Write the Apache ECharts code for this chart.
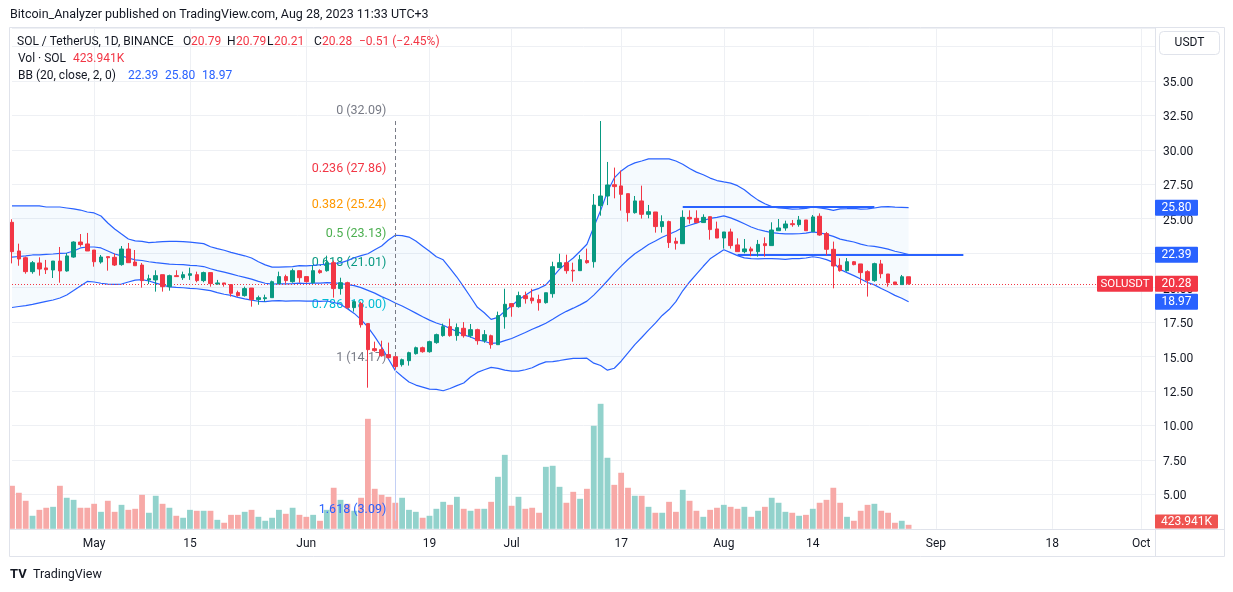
<!DOCTYPE html>
<html>
<head>
<meta charset="utf-8">
<script src="https://cdn.jsdelivr.net/npm/echarts/dist/echarts.min.js"></script>
<style>
html,body{margin:0;padding:0;background:#fff;}
#chart{width:1233px;height:592px;}
</style>
</head>
<body>
<div id="chart"></div>
<script>
// ---------------- DATA ----------------
const startDate = '2023-04-19';
const axisDays = 168;
const tickDates = ['2023-05-01','2023-05-15','2023-06-01','2023-06-19','2023-07-01','2023-07-17','2023-08-01','2023-08-14','2023-09-01','2023-09-18','2023-10-01'];
const tickTexts = ['May','15','Jun','19','Jul','17','Aug','14','Sep','18','Oct'];
const priceTicks = ['5.00','7.50','10.00','12.50','15.00','17.50','20.00','22.50','25.00','27.50','30.00','32.50','35.00'];

const opens = [24.74,22.66,22.17,21.16,21.79,21.43,21.28,21.93,21.21,22.22, 23.31,23.17,22.73,21.86,22.25,22.20,21.67,22.80,21.86,21.64, 20.55,20.56,20.94,20.07,20.87,20.72,20.89,20.94,20.51,21.09, 20.27,20.34,20.22,19.64,19.42,19.97,19.13,19.20,19.27,20.29, 20.80,20.43,21.23,20.80,20.36,21.23,21.23,21.81,19.93,20.36, 18.55,18.84,17.39,15.57,15.50,15.14,14.99,14.41,14.70,15.21, 15.64,15.35,16.01,16.52,17.17,16.52,17.05,16.51,16.95,16.15, 16.51,15.86,17.89,18.84,18.62,19.42,19.25,19.13,18.91,19.56, 21.45,21.81,21.26,21.23,21.96,21.88,25.95,26.65,27.47,27.38, 26.82,25.44,26.29,25.32,25.49,24.43,24.79,23.36,23.19,25.10, 25.03,24.72,25.15,24.26,23.60,24.04,23.10,22.61,22.81,22.61, 23.19,23.05,24.13,24.33,24.64,24.57,24.91,24.06,25.18,23.92, 22.78,21.62,21.23,21.88,21.72,21.16,20.51,21.72,20.99,20.41, 20.22,20.79];
const closes = [22.61,22.08,21.16,21.81,21.35,21.30,21.93,21.21,22.30,23.31, 23.12,22.66,21.88,22.22,22.17,21.64,22.80,21.81,21.59,20.51, 20.65,20.87,20.07,20.87,20.80,20.94,21.01,20.51,21.09,20.29, 20.34,20.27,19.59,19.42,19.93,19.13,19.27,19.27,20.43,20.80, 20.51,21.23,20.72,20.43,21.23,21.09,21.81,19.93,20.36,18.55, 18.98,17.31,15.50,15.43,15.06,14.92,14.27,14.77,15.28,15.64, 15.35,16.08,16.59,17.17,16.52,17.10,16.51,16.95,16.15,16.59, 15.86,17.97,18.79,18.62,19.42,19.20,19.05,18.91,19.63,21.52, 21.81,21.23,21.21,22.03,21.81,25.99,26.65,27.45,27.33,26.77, 25.44,26.29,25.32,25.51,24.43,24.79,23.27,23.22,25.10,24.98, 24.72,25.10,24.21,23.60,24.04,23.05,22.61,22.81,22.66,23.14, 23.05,24.18,24.33,24.62,24.57,24.91,24.13,25.13,23.82,22.78, 21.57,21.23,21.88,21.67,21.09,20.53,21.74,21.01,20.36,20.22, 20.79,20.28];
const lows = [21.76,21.59,21.01,21.01,20.87,20.99,20.70,20.36,21.16,22.17, 22.97,22.66,21.52,21.74,21.23,21.57,21.59,21.81,21.59,20.00, 20.26,19.71,19.71,19.78,20.80,20.56,20.56,20.39,20.39,20.07, 20.22,20.07,19.35,19.35,19.35,18.62,18.76,18.98,19.27,20.29, 20.29,20.36,20.36,20.36,20.29,21.01,21.16,19.27,19.49,18.47, 18.26,17.10,12.74,15.35,14.99,14.85,14.05,14.27,14.34,15.14, 15.28,15.28,15.93,16.44,16.44,16.15,16.37,16.37,15.86,16.00, 15.57,15.86,17.02,17.89,18.55,18.84,18.84,18.33,18.84,19.27, 21.45,21.01,20.43,21.23,21.74,21.45,25.22,25.99,26.48,25.59, 24.79,25.37,25.01,25.03,23.99,23.99,22.88,22.76,23.19,24.64, 24.72,24.72,23.48,23.60,22.83,22.83,22.61,22.49,22.28,22.25, 22.25,23.05,24.13,24.13,24.42,24.42,24.13,24.06,23.77,22.34, 19.95,21.16,21.16,21.62,20.29,19.35,20.43,20.68,20.07,20.22, 20.22,20.21];
const highs = [24.96,23.19,22.25,21.93,22.20,22.01,21.93,22.95,22.51,23.36, 23.89,23.97,22.73,22.37,22.25,22.47,23.02,23.24,22.73,21.79, 20.94,21.26,20.94,20.94,21.26,21.16,21.45,21.16,21.16,21.09, 20.56,20.34,20.22,19.78,20.07,19.97,19.42,19.49,20.51,21.16, 20.94,21.38,21.23,20.80,21.64,21.33,22.32,21.96,20.72,20.43, 19.05,18.98,17.39,16.08,16.15,16.01,14.99,14.85,15.35,15.72, 15.72,16.15,16.66,17.39,17.75,17.40,17.50,17.36,17.02,16.92, 16.59,18.26,19.92,18.84,19.71,19.71,19.92,19.49,19.63,21.88, 22.46,22.39,21.81,22.37,22.83,26.79,32.09,29.12,28.71,28.49, 26.82,26.65,27.40,26.00,25.49,25.25,24.86,23.63,25.61,25.61, 25.61,25.32,25.15,24.79,24.04,24.28,23.58,23.53,22.97,23.46, 23.65,24.74,24.98,24.86,24.91,25.20,24.91,25.27,25.39,24.04, 23.34,22.13,22.15,21.93,21.72,21.26,21.81,22.01,20.99,20.41, 20.92,20.79];
// volume in millions of SOL
const volumes = [4.56,3.82,2.97,1.38,2.01,2.23,2.33,4.56,3.29,3.07, 2.23,2.23,2.65,1.80,2.97,1.80,2.54,2.01,2.12,3.60, 1.70,3.50,2.65,2.23,1.38,1.17,2.01,1.91,1.91,1.91, 0.95,0.64,1.48,1.48,1.80,2.01,1.27,0.85,1.17,2.01, 1.59,2.23,1.48,1.27,1.48,0.85,2.01,4.35,3.07,2.65, 1.91,3.29,11.66,4.24,3.60,3.39,2.76,3.29,2.01,1.80, 1.17,1.38,2.12,2.86,2.54,3.39,2.12,1.91,2.12,2.12, 2.86,5.51,7.84,2.44,3.39,2.12,2.23,1.70,6.57,6.68, 4.45,2.76,3.92,3.18,4.24,10.92,13.25,7.53,4.66,5.94, 4.35,3.50,3.50,2.33,1.70,1.70,2.86,1.80,4.13,2.97, 1.91,1.27,2.01,2.23,2.54,2.33,2.12,2.33,1.27,1.91, 2.33,3.29,2.76,1.80,1.70,1.38,1.48,2.12,2.76,3.07, 4.35,2.76,1.27,0.85,1.91,2.54,2.65,1.91,1.70,0.64, 0.85,0.424];
const bbUpper = [25.93,25.93,25.93,25.93,25.93,25.85,25.85,25.85,25.78,25.71, 25.63,25.49,25.42,25.20,24.69,24.26,23.89,23.53,23.39,23.36, 23.27,23.30,23.34,23.36,23.35,23.34,23.30,23.25,23.19,22.97, 22.83,22.71,22.56,22.43,22.31,22.15,21.88,21.65,21.49,21.49, 21.51,21.53,21.60,21.58,21.61,21.66,21.71,21.75,21.80,21.96, 22.17,22.32,22.46,22.75,23.02,23.46,23.80,23.78,23.67,23.38, 23.01,22.64,22.24,22.02,21.39,20.77,20.05,19.32,18.57,18.18, 17.70,17.84,18.29,18.68,19.12,19.45,19.78,19.95,20.20,20.77, 21.34,21.76,22.15,22.64,23.15,24.40,25.59,26.98,27.96,28.47, 28.83,29.05,29.19,29.34,29.34,29.34,29.34,29.19,28.95,28.65, 28.38,28.19,27.95,27.77,27.67,27.58,27.40,27.10,26.70,26.35, 26.09,25.88,25.79,25.75,25.70,25.71,25.75,25.86,25.79,25.71, 25.61,25.72,25.73,25.75,25.70,25.71,25.78,25.86,25.88,25.84, 25.83,25.80];
const bbMiddle = [22.22,22.26,22.30,22.37,22.37,22.41,22.44,22.48,22.51,22.66, 22.88,22.95,22.95,22.88,22.66,22.44,22.30,22.15,22.01,21.97, 21.88,21.81,21.76,21.71,21.68,21.67,21.62,21.59,21.53,21.37, 21.24,21.12,21.00,20.86,20.75,20.62,20.45,20.32,20.26,20.28, 20.27,20.29,20.32,20.30,20.32,20.33,20.37,20.34,20.30,20.22, 20.15,20.00,19.80,19.60,19.35,19.14,18.89,18.67,18.41,18.15, 17.89,17.64,17.43,17.27,17.03,16.83,16.57,16.42,16.21,16.11, 15.95,15.99,16.15,16.31,16.53,16.74,16.98,17.19,17.41,17.70, 18.02,18.28,18.51,18.75,19.02,19.46,19.97,20.50,21.05,21.56, 22.04,22.46,22.78,23.13,23.38,23.66,23.87,24.09,24.36,24.53, 24.68,24.87,25.02,25.10,25.21,25.06,24.86,24.63,24.40,24.22, 24.10,23.99,23.94,23.90,23.90,23.91,23.95,24.05,23.98,23.87, 23.72,23.52,23.41,23.31,23.16,23.04,22.99,22.90,22.79,22.64, 22.53,22.39];
const bbLower = [18.56,18.63,18.70,18.78,18.89,19.00,19.10,19.25,19.47,19.79, 20.12,20.45,20.41,20.32,20.26,20.24,20.26,20.41,20.55,20.58, 20.48,20.33,20.18,20.06,20.02,19.99,19.94,19.92,19.86,19.78, 19.64,19.52,19.44,19.29,19.19,19.10,19.01,18.99,19.04,19.06, 19.02,19.04,19.04,19.02,19.03,19.00,19.03,18.92,18.80,18.47, 18.13,17.68,17.14,16.44,15.69,14.82,13.98,13.55,13.15,12.93, 12.78,12.63,12.62,12.52,12.68,12.89,13.08,13.51,13.85,14.04, 14.21,14.14,14.01,13.94,13.94,14.04,14.19,14.43,14.61,14.63, 14.71,14.80,14.87,14.87,14.88,14.52,14.35,14.01,14.15,14.66, 15.26,15.87,16.38,16.92,17.42,17.98,18.41,18.98,19.77,20.41, 20.98,21.55,22.09,22.43,22.75,22.54,22.32,22.16,22.10,22.09, 22.10,22.10,22.09,22.05,22.10,22.11,22.15,22.24,22.17,22.03, 21.83,21.32,21.09,20.87,20.62,20.37,20.20,19.94,19.70,19.44, 19.23,18.97];

const fibLevels = ['0','0.236','0.382','0.5','0.618','0.786','1','1.618'];
const fibPrices = [32.09,27.86,25.24,23.13,21.01,18.00,14.17,3.09];
const fibColors = ['#787b86','#f23645','#ff9800','#4caf50','#089981','#00bcd4','#787b86','#2962ff'];
const fibDate = '2023-06-14';
const drawnLines = [
  {from:'2023-07-26', to:'2023-08-23', price:25.85},
  {from:'2023-08-03', to:'2023-09-05', price:22.35}
];
const lastPrice = 20.28;
const bbLast = {basis:'22.39', upper:'25.80', lower:'18.97'};
const volLastText = '423.941K';
const headerText = 'Bitcoin_Analyzer published on TradingView.com, Aug 28, 2023 11:33 UTC+3';

// ---------------- BUILD ----------------
const dates = [];
const t0 = Date.parse(startDate + 'T00:00:00Z');
for (let i = 0; i < axisDays; i++) dates.push(new Date(t0 + i * 86400000).toISOString().slice(0, 10));

const FONT = 'Roboto, "Noto Sans", sans-serif';
const UP = '#089981', DOWN = '#f23645', VUP = '#92d2cc', VDOWN = '#f7a9a7', BB = '#2962ff', TXT = '#131722';

const candleData = opens.map((o, i) => [o, closes[i], lows[i], highs[i]]);
const volData = volumes.map((v, i) => ({value: v, itemStyle: {color: closes[i] >= opens[i] ? VUP : VDOWN}}));
const bandWidth = bbUpper.map((u, i) => +(u - bbLower[i]).toFixed(4));

const chart = echarts.init(document.getElementById('chart'));

const bbLine = (name, data) => ({
  name, type: 'line', data, symbol: 'none', z: 3, silent: true,
  lineStyle: {color: BB, width: 1.2}
});

const markData = drawnLines.map(l => [
  {coord: [l.from, l.price], lineStyle: {color: BB, width: 2, type: 'solid'}},
  {coord: [l.to, l.price]}
]);
markData.push({yAxis: lastPrice, lineStyle: {color: DOWN, width: 1, type: [1, 2]}});
markData.push([
  {coord: [fibDate, fibPrices[0]], lineStyle: {color: '#787b86', width: 1, type: [4, 3]}},
  {coord: [fibDate, fibPrices[6]]}
]);
markData.push([
  {coord: [fibDate, fibPrices[6]], lineStyle: {color: '#c3d0f5', width: 1, type: 'solid'}},
  {coord: [fibDate, fibPrices[7]]}
]);

const option = {
  animation: false,
  backgroundColor: '#ffffff',
  textStyle: {fontFamily: FONT},
  grid: [
    {left: 12, right: 78, top: 28, bottom: 63.2},
    {left: 12, right: 78, top: 328.8, bottom: 63.2}
  ],
  xAxis: [
    {
      type: 'category', data: dates, gridIndex: 0, boundaryGap: false,
      axisLine: {show: false}, axisTick: {show: false},
      axisLabel: {
        interval: (i, v) => tickDates.indexOf(v) >= 0,
        formatter: v => tickTexts[tickDates.indexOf(v)] || '',
        color: TXT, fontSize: 12, margin: 9, fontFamily: FONT
      },
      splitLine: {show: true, interval: (i, v) => tickDates.indexOf(v) >= 0, lineStyle: {color: '#eef0f4', width: 1}}
    },
    {type: 'category', data: dates, gridIndex: 1, boundaryGap: false, show: false}
  ],
  yAxis: [
    {
      type: 'value', gridIndex: 0, position: 'right', min: 2.5, max: 38.84, interval: 2.5,
      axisLine: {show: false}, axisTick: {show: false},
      axisLabel: {
        formatter: v => { const s = v.toFixed(2); return priceTicks.indexOf(s) >= 0 ? s : ''; },
        color: TXT, fontSize: 12, margin: 8, fontFamily: FONT, verticalAlign: 'top', lineHeight: 4
      },
      splitLine: {lineStyle: {color: '#eef0f4', width: 1}}
    },
    {type: 'value', gridIndex: 1, min: 0, max: 21.2, show: false, splitLine: {show: false}}
  ],
  series: [
    {name: 'Volume', type: 'bar', xAxisIndex: 1, yAxisIndex: 1, data: volData, barWidth: 5.8, z: 1, silent: true},
    {name: 'bbBase', type: 'line', data: bbLower, stack: 'bb', symbol: 'none', lineStyle: {opacity: 0}, z: 2, silent: true},
    {name: 'bbFill', type: 'line', data: bandWidth, stack: 'bb', symbol: 'none', lineStyle: {opacity: 0},
      areaStyle: {color: 'rgba(33,150,243,0.06)'}, z: 2, silent: true},
    bbLine('Upper', bbUpper),
    bbLine('Basis', bbMiddle),
    bbLine('Lower', bbLower),
    {
      name: 'SOLUSDT', type: 'candlestick', data: candleData, barWidth: 4, z: 5, clip: false,
      itemStyle: {color: UP, color0: DOWN, borderColor: UP, borderColor0: DOWN, borderWidth: 1},
      markLine: {silent: true, symbol: ['none', 'none'], label: {show: false}, data: markData, z: 4}
    }
  ]
};
chart.setOption(option);

// ---------------- OVERLAY TEXT / BOXES ----------------
const py = v => chart.convertToPixel({yAxisIndex: 0}, v);
const px = d => chart.convertToPixel({xAxisIndex: 0}, d);
const vy = v => chart.convertToPixel({yAxisIndex: 1}, v);

function T(x, y, text, color, size, extra) {
  const o = Object.assign({align: 'left', vAlign: 'middle', weight: 'normal', z: 60}, extra || {});
  return {
    type: 'text', x, y, z: o.z, silent: true,
    style: {
      text, fill: color, font: `${o.weight} ${size}px ${FONT}`,
      textAlign: o.align, textVerticalAlign: o.vAlign, align: o.align, verticalAlign: o.vAlign
    }
  };
}
function Box(x, yc, w, h, fill, text, size) {
  return [
    {type: 'rect', z: 100, silent: true, shape: {x, y: yc - h / 2, width: w, height: h, r: 1}, style: {fill}},
    T(x + w / 2, yc, text, '#ffffff', size || 12, {align: 'center', z: 101})
  ];
}

const g = [];
// frame and separators
g.push({type: 'rect', z: 50, silent: true, shape: {x: 9.5, y: 27.5, width: 1215, height: 529}, style: {fill: 'rgba(0,0,0,0)', stroke: '#e0e3eb', lineWidth: 1}});
g.push({type: 'line', z: 50, silent: true, shape: {x1: 9.5, y1: 529.5, x2: 1224.5, y2: 529.5}, style: {stroke: '#e0e3eb', lineWidth: 1}});
g.push({type: 'line', z: 50, silent: true, shape: {x1: 1155.5, y1: 27.5, x2: 1155.5, y2: 556.5}, style: {stroke: '#e0e3eb', lineWidth: 1}});

// header
g.push(T(10, 15, headerText, TXT, 12.5));
// legend row 1
const n = closes.length - 1;
const chg = closes[n] - closes[n - 1];
const pct = chg / closes[n - 1] * 100;
const fmt = v => (v < 0 ? '\u2212' : '') + Math.abs(v).toFixed(2);
const LF = 12;
g.push(T(17, 42, 'SOL / TetherUS, 1D, BINANCE', TXT, LF));
g.push(T(183, 42, 'O', TXT, LF)); g.push(T(191, 42, opens[n].toFixed(2), DOWN, LF));
g.push(T(227, 42, 'H', TXT, LF)); g.push(T(236, 42, highs[n].toFixed(2), DOWN, LF));
g.push(T(267, 42, 'L', TXT, LF)); g.push(T(274, 42, lows[n].toFixed(2), DOWN, LF));
g.push(T(314, 42, 'C', TXT, LF)); g.push(T(322, 42, closes[n].toFixed(2), DOWN, LF));
g.push(T(359, 42, fmt(chg) + ' (' + fmt(pct) + '%)', DOWN, LF));
// legend row 2
g.push(T(18, 59, 'Vol \u00b7 SOL', TXT, LF));
g.push(T(73, 59, volLastText, DOWN, LF));
// legend row 3
g.push(T(18, 76, 'BB (20, close, 2, 0)', TXT, LF));
g.push(T(128, 76, bbLast.basis, BB, LF));
g.push(T(165, 76, bbLast.upper, BB, LF));
g.push(T(202, 76, bbLast.lower, BB, LF));

// fib labels
const fx = px(fibDate);
fibLevels.forEach((lv, i) => {
  const y = py(fibPrices[i]);
  g.push(T(fx - 9, y - 4, lv + ' (' + fibPrices[i].toFixed(2) + ')', fibColors[i], 12.5, {align: 'right', vAlign: 'bottom', z: 3}));
});

// axis value boxes
const axX = 1155, axW = 43, bh = 16;
g.push(...Box(axX, py(bbUpper[n]), axW, bh, BB, bbLast.upper));
g.push(...Box(axX, py(bbMiddle[n]), axW, bh, BB, bbLast.basis));
g.push(...Box(axX, py(bbLower[n]), axW, bh, BB, bbLast.lower));
g.push(...Box(axX, py(lastPrice), axW, bh, DOWN, lastPrice.toFixed(2)));
g.push(...Box(1097, py(lastPrice), 56, bh, DOWN, 'SOLUSDT', 11.5));
const vyc = Math.min(vy(volumes[n]), 521.5);
g.push(...Box(axX, vyc, 63, 14, '#ef5350', volLastText));

// currency box
g.push({type: 'rect', z: 60, silent: true, shape: {x: 1159.5, y: 31.5, width: 60, height: 23, r: 4}, style: {fill: '#ffffff', stroke: '#e0e3eb', lineWidth: 1}});
g.push(T(1189.5, 43, 'USDT', TXT, 12, {align: 'center'}));

// footer logo
g.push(T(10, 575, 'TV', TXT, 13, {weight: 'bold'}));
g.push(T(33, 575, 'TradingView', TXT, 12.5));

chart.setOption({graphic: g});
</script>
</body>
</html>
